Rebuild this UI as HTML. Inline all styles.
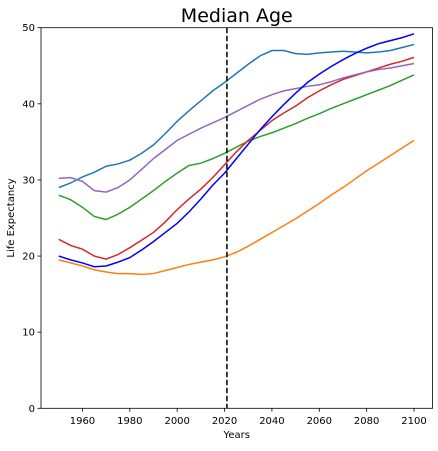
<!DOCTYPE html>
<html><head><meta charset="utf-8"><style>
body{margin:0;background:#fff;width:438px;height:446px;overflow:hidden}
text{font-family:"DejaVu Sans","Liberation Sans",sans-serif;fill:#000}
</style></head><body>
<svg id="chart" width="438" height="446" xmlns="http://www.w3.org/2000/svg"></svg>
<script>
const years=[];for(let y=1950;y<=2100;y+=5)years.push(y);
const seriesTeal=[29.0,29.6,30.4,31.0,31.8,32.1,32.6,33.5,34.6,36.1,37.7,39.1,40.4,41.7,42.8,44.0,45.2,46.3,47.0,47.0,46.6,46.5,46.7,46.8,46.9,46.8,46.7,46.8,47.0,47.4,47.8];
const seriesOrange=[19.5,19.1,18.7,18.2,17.9,17.7,17.7,17.6,17.7,18.1,18.5,18.9,19.2,19.5,19.9,20.5,21.3,22.2,23.1,24.0,24.9,25.9,26.9,28.0,29.0,30.1,31.2,32.2,33.2,34.2,35.2];
const seriesGreen=[28.0,27.4,26.4,25.2,24.8,25.5,26.4,27.5,28.6,29.8,30.9,31.9,32.2,32.8,33.5,34.3,35.1,35.7,36.2,36.8,37.4,38.1,38.7,39.4,40.0,40.6,41.2,41.8,42.4,43.1,43.8];
const seriesRed=[22.2,21.4,20.9,20.0,19.6,20.2,21.1,22.1,23.1,24.5,26.1,27.5,28.8,30.3,32.0,33.7,35.2,36.5,37.8,38.8,39.7,40.8,41.7,42.5,43.2,43.7,44.2,44.7,45.2,45.6,46.1];
const seriesBlue=[20.0,19.5,19.1,18.6,18.7,19.2,19.8,20.8,21.9,23.1,24.3,25.8,27.5,29.3,30.9,32.8,34.7,36.6,38.3,39.9,41.4,42.8,43.9,44.9,45.8,46.6,47.3,47.9,48.3,48.7,49.2];
const seriesPurple=[30.2,30.3,29.8,28.6,28.4,29.0,30.0,31.4,32.8,34.0,35.2,36.0,36.8,37.5,38.2,39.0,39.8,40.6,41.2,41.7,42.0,42.3,42.5,42.9,43.4,43.8,44.2,44.5,44.7,45.0,45.3];
const xTicks=[1960,1980,2000,2020,2040,2060,2080,2100];
const yTicks=[0,10,20,30,40,50];
const currentYear=2021;

const L=41,R=432.5,T=27.7,B=408.3,x0=1942.5,x1=2107.8,y0=0,y1=50;
const xs=v=>L+(v-x0)/(x1-x0)*(R-L);
const ys=v=>B-(v-y0)/(y1-y0)*(B-T);
const svg=document.getElementById('chart');
const NS='http://www.w3.org/2000/svg';
function mk(tag,attrs){const e=document.createElementNS(NS,tag);for(const k in attrs)e.setAttribute(k,attrs[k]);svg.appendChild(e);return e;}

const title=mk('text',{x:(L+R)/2,y:22,'text-anchor':'middle','font-size':'19'});title.textContent='Median Age';



xTicks.forEach(t=>{const x=xs(t);
 const tk=mk('line',{x1:x,x2:x,y1:B,y2:B+3.5,stroke:'#000','stroke-width':0.8});
 
 
 const lb=mk('text',{x:x,y:B+15.5,'text-anchor':'middle','font-size':'10'});lb.textContent=t;
 
 });
yTicks.forEach(t=>{const y=ys(t);
 const tk=mk('line',{x1:L-3.5,x2:L,y1:y,y2:y,stroke:'#000','stroke-width':0.8});
 
 
 const lb=mk('text',{x:L-6,y:y+3.5,'text-anchor':'end','font-size':'10'});lb.textContent=t;
 
 });

const xl=mk('text',{x:(L+R)/2,y:438,'text-anchor':'middle','font-size':'10'});xl.textContent='Years';


const yl=mk('text',{x:0,y:0,'text-anchor':'middle','font-size':'10',transform:`translate(14,${(T+B)/2}) rotate(-90)`});yl.textContent='Life Expectancy';



const series=[[seriesTeal,'#1f77b4','series-teal'],[seriesOrange,'#ff7f0e','series-orange'],[seriesGreen,'#2ca02c','series-green'],[seriesRed,'#d62728','series-red'],[seriesPurple,'#9467bd','series-purple'],[seriesBlue,'#0000ff','series-blue']];
series.forEach(([d,c,n])=>{
 const p=mk('polyline',{points:d.map((v,i)=>xs(years[i])+','+ys(v)).join(' '),fill:'none',stroke:c,'stroke-width':1.5});
 
 });

const dl=mk('line',{x1:xs(currentYear),x2:xs(currentYear),y1:T,y2:B,stroke:'#000','stroke-width':1.5,'stroke-dasharray':'5.5,2.5'});



const fr=mk('rect',{x:L,y:T,width:R-L,height:B-T,fill:'none',stroke:'#000','stroke-width':0.8});


</script>
</body></html>
